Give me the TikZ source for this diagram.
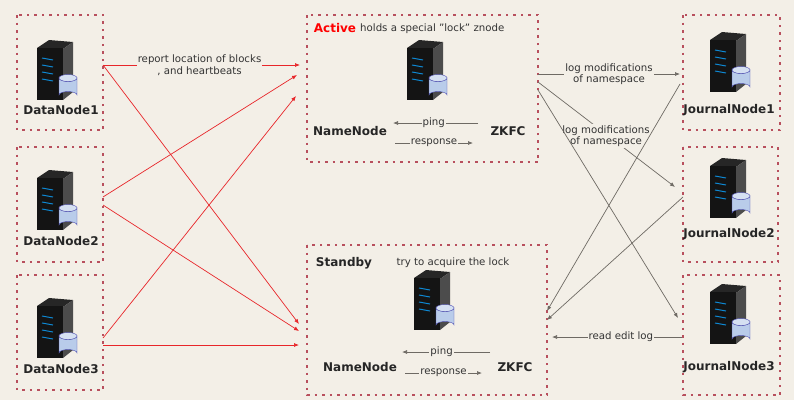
\documentclass[tikz,border=0pt]{standalone}
\usepackage{fontspec}
\setmainfont{DejaVu Sans}
\usetikzlibrary{arrows.meta}
\definecolor{bg}{HTML}{F3EFE7}
\definecolor{boxc}{HTML}{B8505E}
\definecolor{arr}{HTML}{E8262A}
\definecolor{garr}{HTML}{6E6A64}
\definecolor{cyl}{HTML}{B9CCEA}
\begin{document}
\begin{tikzpicture}[x=1pt,y=-1pt,
  box/.style={draw=boxc,line width=1.6pt,dash pattern=on 2.5pt off 5pt},
  lbl/.style={font=\fontsize{12}{14}\selectfont\bfseries,text=black!85},
  sm/.style={font=\fontsize{10.2}{11.5}\selectfont,text=black!80,fill=bg,inner sep=1pt,align=center},
  ra/.style={draw=arr,line width=0.7pt,-{Latex[length=5pt,width=4pt]}},
  ga/.style={draw=garr,line width=0.7pt,-{Latex[length=5pt,width=4pt]}},
  server/.pic={
    \fill[black!85] (-18,-22) -- (-6,-30) -- (18,-28) -- (8,-21) -- cycle;
    \fill[black!70] (8,-21) -- (18,-28) -- (18,22) -- (8,30) -- cycle;
    \fill[black!92] (-18,-22) rectangle (8,30);
    \foreach \yy in {-12,-5,2,9}{\draw[cyan!70!blue,line width=1pt] (-13,\yy) -- (-2,\yy+2);}
    \fill[cyl,draw=blue!40!gray,line width=0.4pt] (4,8) -- (4,25) arc[start angle=180,end angle=360,x radius=9,y radius=3.5] -- (22,8) arc[start angle=0,end angle=180,x radius=9,y radius=3.5] -- cycle;
    \draw[blue!40!gray,line width=0.4pt,fill=cyl!60!white] (13,8) ellipse[x radius=9,y radius=3.5];
  }]
\fill[bg] (0,0) rectangle (794,400);
\useasboundingbox (0,0) rectangle (794,400);
% boxes
\draw[box] (17,15) rectangle (103,130);
\draw[box] (17,147) rectangle (103,262);
\draw[box] (17,275) rectangle (103,390);
\draw[box] (307,15) rectangle (538,162);
\draw[box] (307,245) rectangle (547,395);
\draw[box] (683,15) rectangle (780,130);
\draw[box] (683,147) rectangle (778,262);
\draw[box] (683,275) rectangle (780,395);
% servers
\pic at (55,70) {server};
\pic at (55,200) {server};
\pic at (55,328) {server};
\pic at (425,70) {server};
\pic at (432,300) {server};
\pic at (728,62) {server};
\pic at (728,188) {server};
\pic at (728,314) {server};
% labels
\node[lbl] (dn1) at (61,110) {DataNode1};
\node[lbl] (dn2) at (61,241) {DataNode2};
\node[lbl] (dn3) at (61,369) {DataNode3};
\node[lbl] (jn1) at (729,110) {JournalNode1};
\node[lbl] (jn2) at (729,234) {JournalNode2};
\node[lbl] (jn3) at (729,367) {JournalNode3};
\node[lbl,text=red] (act) at (335,28) {Active};
\node[sm,anchor=west] (actt) at (359,29) {holds a special \char34 lock\char34\ znode};
\node[lbl] (stb) at (344,263) {Standby};
\node[sm] (stbt) at (453,263) {try to acquire the lock};
\node[lbl] (nn1) at (350,131) {NameNode};
\node[lbl] (zk1) at (508,131) {ZKFC};
\node[lbl] (nn2) at (360,367) {NameNode};
\node[lbl] (zk2) at (515,367) {ZKFC};
% coordinates
\coordinate (d1) at (103,65); \coordinate (d2) at (103,197); \coordinate (d2b) at (103,205);
\coordinate (d3) at (103,338); \coordinate (d3b) at (103,345);
\coordinate (a1) at (300,65); \coordinate (a2) at (297,75); \coordinate (a3) at (296,96);
\coordinate (s1) at (299,324); \coordinate (s2) at (299,331); \coordinate (s3) at (299,345);
% red arrows
\draw[ra] (d1) -- node[sm,pos=0.49]{report location of blocks\\, and heartbeats} (a1);
\draw[ra] (d1) -- (s1);
\draw[ra] (d2) -- (a2);
\draw[ra] (d2b) -- (s2);
\draw[ra] (d3) -- (a3);
\draw[ra] (d3b) -- (s3);
% ping/response
\coordinate (p1s) at (478,123); \coordinate (p1e) at (393,123);
\coordinate (r1s) at (395,143); \coordinate (r1e) at (473,143);
\coordinate (p2s) at (490,352); \coordinate (p2e) at (402,352);
\coordinate (r2s) at (405,373); \coordinate (r2e) at (482,373);
\draw[ga] (p1s) -- node[sm,pos=0.52]{ping} (p1e);
\draw[ga] (r1s) -- node[sm]{response} (r1e);
\draw[ga] (p2s) -- node[sm,pos=0.55]{ping} (p2e);
\draw[ga] (r2s) -- node[sm]{response} (r2e);
% gray arrows right
\coordinate (ao1) at (538,74); \coordinate (ao2) at (538,82); \coordinate (ao3) at (538,90);
\coordinate (j1i) at (680,74); \coordinate (j2i) at (675,187); \coordinate (j3i) at (678,318);
\coordinate (j1o) at (680,84); \coordinate (j2o) at (683,197); \coordinate (j3o) at (682,337);
\coordinate (si1) at (547,311); \coordinate (si2) at (547,320); \coordinate (si3) at (552,337);
\draw[ga] (ao1) -- node[sm,pos=0.5]{log modifications\\of namespace} (j1i);
\draw[ga] (ao2) -- (j2i);
\node[sm] (lm2) at (606,136) {log modifications\\of namespace};
\draw[ga] (ao3) -- (j3i);
\draw[ga] (j1o) -- (si1);
\draw[ga] (j2o) -- (si2);
\draw[ga] (j3o) -- node[sm,pos=0.47]{read edit log} (si3);
\end{tikzpicture}
\end{document}
